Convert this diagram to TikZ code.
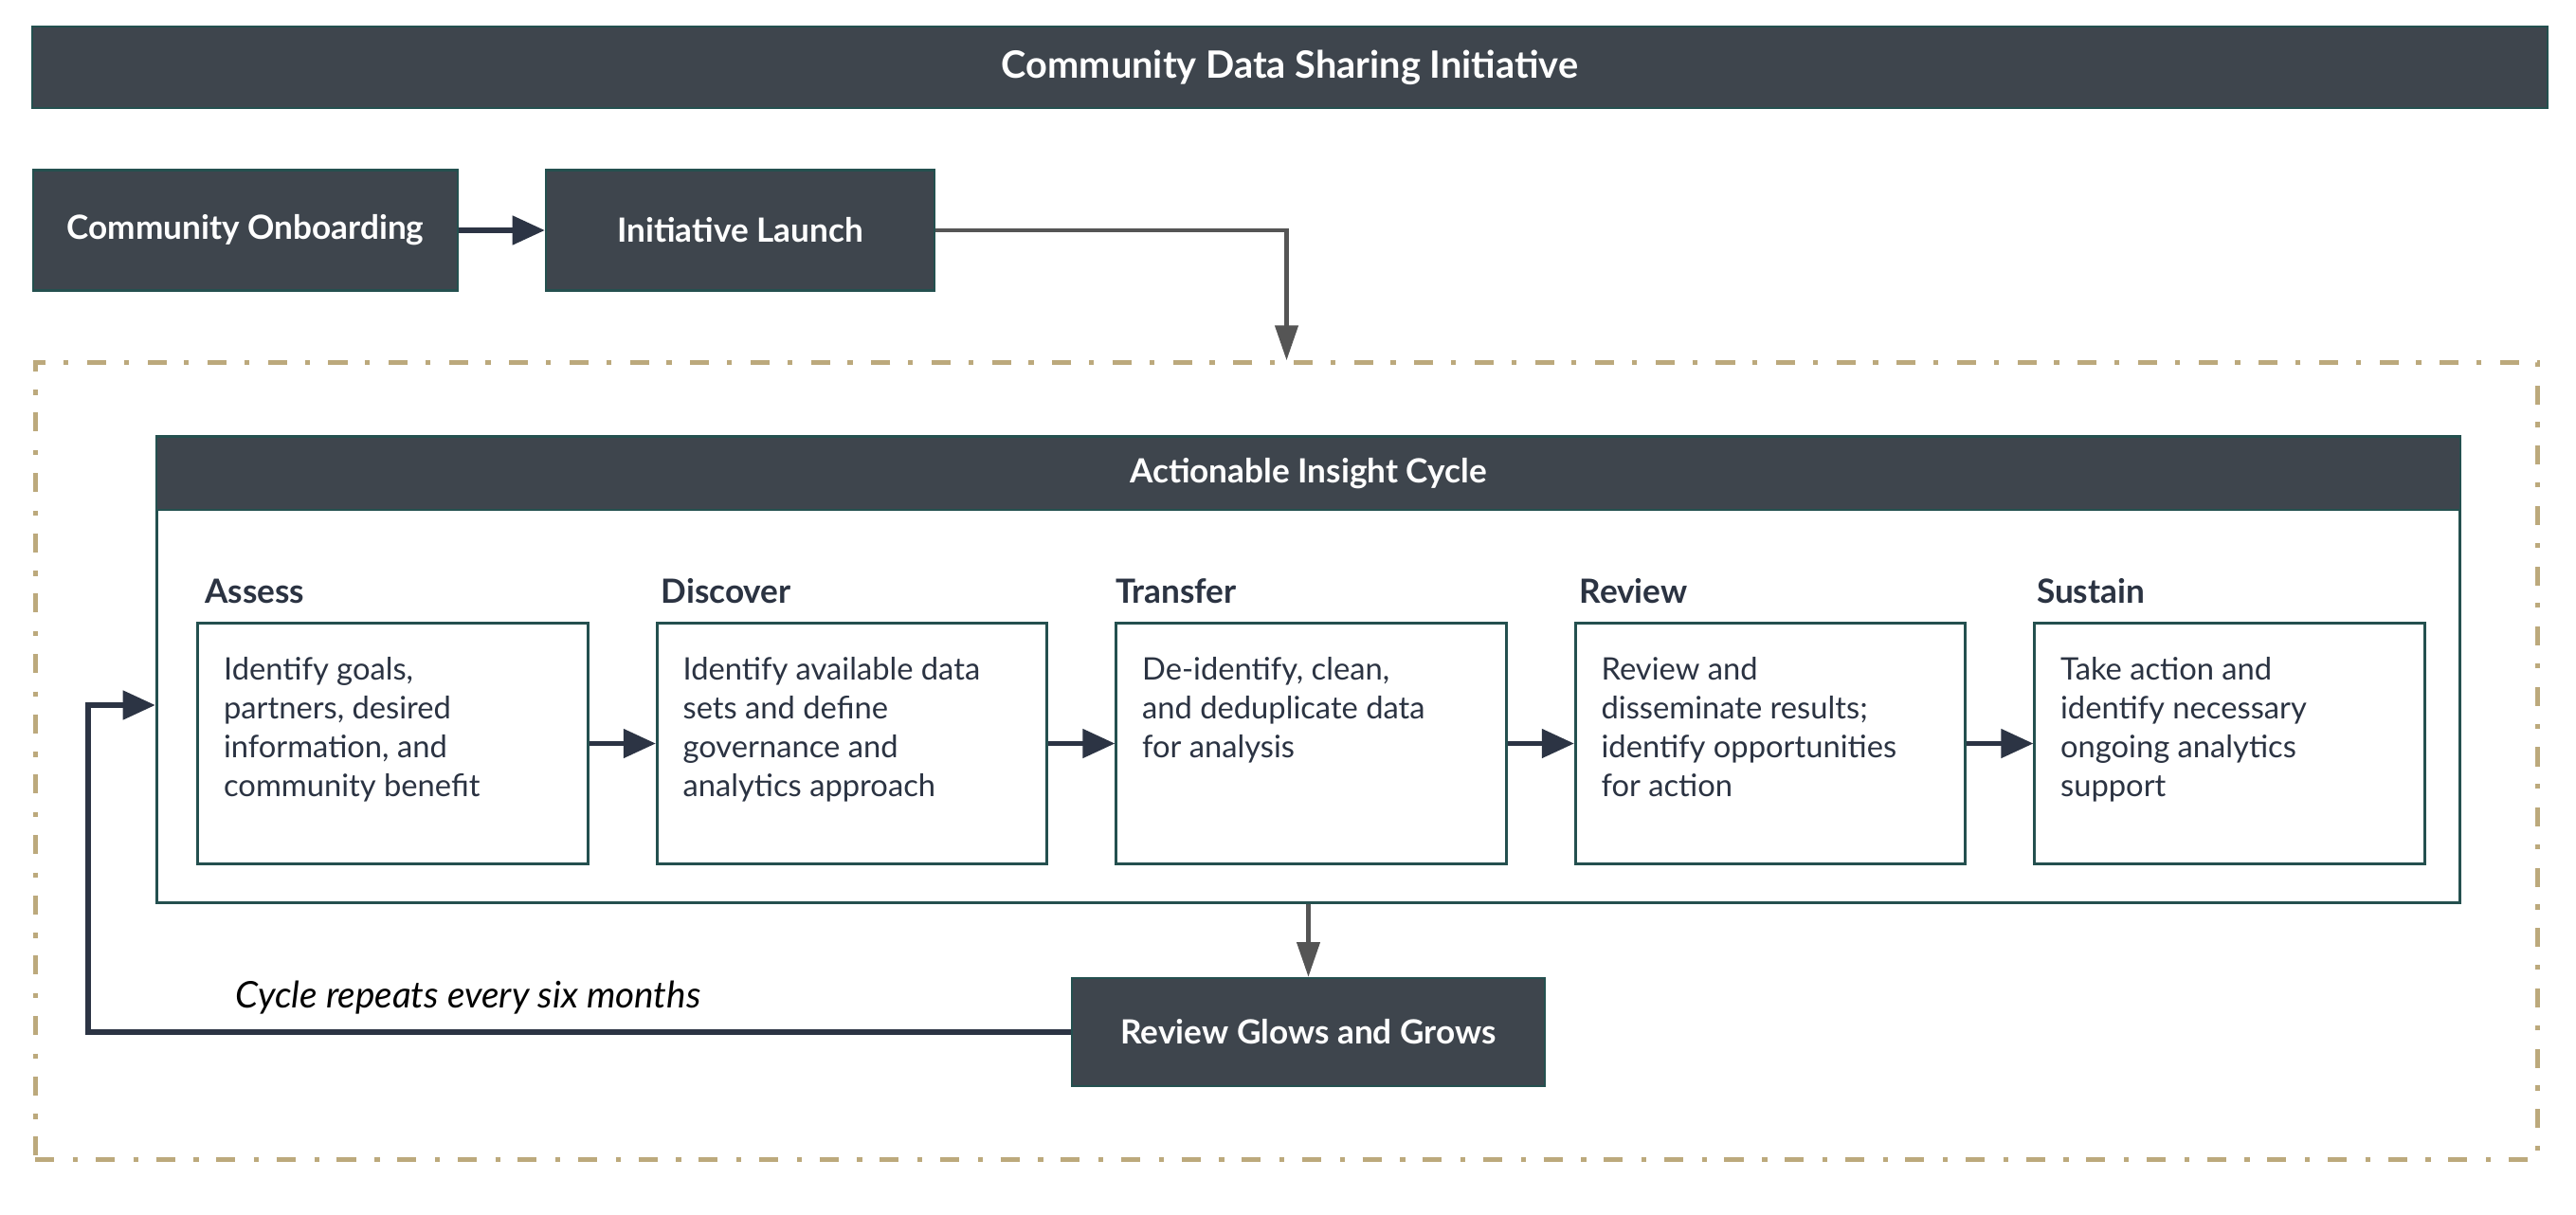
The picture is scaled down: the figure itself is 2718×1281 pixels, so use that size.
\documentclass[tikz,border=0pt]{standalone}
\usepackage{fontspec}
\setmainfont{Lato}
\usetikzlibrary{arrows.meta,calc}
\definecolor{boxdark}{HTML}{3E454D}
\definecolor{tealedge}{HTML}{24504F}
\definecolor{navy}{HTML}{2C3444}
\definecolor{txt}{HTML}{2B3342}
\definecolor{grayarrow}{HTML}{555555}
\definecolor{tanline}{HTML}{BCA97C}
\begin{document}
\begin{tikzpicture}[x=0.01cm,y=-0.01cm,
  darkbox/.style={draw=tealedge, line width=0.6pt, fill=boxdark, text=white, font=\bfseries\fontsize{10}{11}\selectfont, inner sep=0},
  stepbox/.style={draw=tealedge, line width=0.85pt, fill=white, minimum width=4.11cm, minimum height=2.53cm, inner sep=0},
  steplabel/.style={anchor=base west, text=txt, font=\bfseries\fontsize{10}{11}\selectfont, inner sep=0},
  steptext/.style={anchor=north west, align=left, text=txt, font=\fontsize{9.3}{11.7}\selectfont, inner sep=0},
  navyarrow/.style={draw=navy, line width=1.5pt, line join=miter, -{Triangle[length=9.7pt,width=8.5pt]}},
  grayconn/.style={draw=grayarrow, line width=1.3pt, -{Triangle[length=10.5pt,width=6.8pt]}},
  framebox/.style={draw=tanline, line width=1.4pt, dash pattern=on 5.7pt off 5.6pt on 1.5pt off 5.3pt, minimum width=26.39cm, minimum height=8.40cm, inner sep=0},
]
\useasboundingbox (0,0) rectangle (2718,1281);

% title
\node[darkbox, minimum width=26.52cm, minimum height=0.86cm, font=\bfseries\fontsize{11.3}{13}\selectfont] (title) at (1361,71) {Community Data Sharing Initiative};

% top row
\node[darkbox, minimum width=4.48cm, minimum height=1.27cm] (onb) at (259,243) {Community Onboarding};
\node[darkbox, minimum width=4.10cm, minimum height=1.27cm] (launch) at (781,243) {Initiative Launch};

% dashed frame
\node[framebox] (frame) at (1357.5,803) {};

% cycle box
\node[draw=tealedge, line width=0.85pt, fill=white, minimum width=24.29cm, minimum height=4.91cm, inner sep=0] (cyc) at (1380.5,706.5) {};
\node[darkbox, minimum width=24.29cm, minimum height=0.77cm] (cychead) at (1380.5,499.5) {Actionable Insight Cycle};

% step boxes
\node[stepbox] (s1) at (414.5,784.5) {};
\node[stepbox] (s2) at (899,784.5) {};
\node[stepbox] (s3) at (1383.5,784.5) {};
\node[stepbox] (s4) at (1868,784.5) {};
\node[stepbox] (s5) at (2352.5,784.5) {};

\node[steplabel] (l1) at ($(s1.north west)+(8,-20)$) {Assess};
\node[steplabel] (l2) at ($(s2.north west)+(5,-20)$) {Discover};
\node[steplabel] (l3) at ($(s3.north west)+(0,-20)$) {Transfer};
\node[steplabel] (l4) at ($(s4.north west)+(5,-20)$) {Review};
\node[steplabel] (l5) at ($(s5.north west)+(3,-20)$) {Sustain};

\node[steptext] (t1) at ($(s1.north west)+(28,36)$) {Identify goals,\\partners, desired\\information, and\\community benefit};
\node[steptext] (t2) at ($(s2.north west)+(28,36)$) {Identify available data\\sets and define\\governance and\\analytics approach};
\node[steptext] (t3) at ($(s3.north west)+(28,36)$) {De-identify, clean,\\and deduplicate data\\for analysis};
\node[steptext] (t4) at ($(s4.north west)+(28,36)$) {Review and\\disseminate results;\\identify opportunities\\for action};
\node[steptext] (t5) at ($(s5.north west)+(28,36)$) {Take action and\\identify necessary\\ongoing analytics\\support};

% review glows
\node[darkbox, minimum width=4.99cm, minimum height=1.14cm] (rg) at (1380.5,1089) {Review Glows and Grows};

\node[font=\itshape\fontsize{11}{13}\selectfont, text=black, inner sep=0] (cyclbl) at (494,1053) {Cycle repeats every six months};

% connectors
\draw[navyarrow] (onb) -- (launch);
\draw[grayconn] (launch.east) -| (frame.north);
\draw[navyarrow] (s1) -- (s2);
\draw[navyarrow] (s2) -- (s3);
\draw[navyarrow] (s3) -- (s4);
\draw[navyarrow] (s4) -- (s5);
\draw[grayconn] (cyc.south) -- (rg.north);
\coordinate (fb) at (93,744);
\draw[navyarrow] (rg.west) -| (fb) -- (cyc.west |- fb);
\end{tikzpicture}
\end{document}
